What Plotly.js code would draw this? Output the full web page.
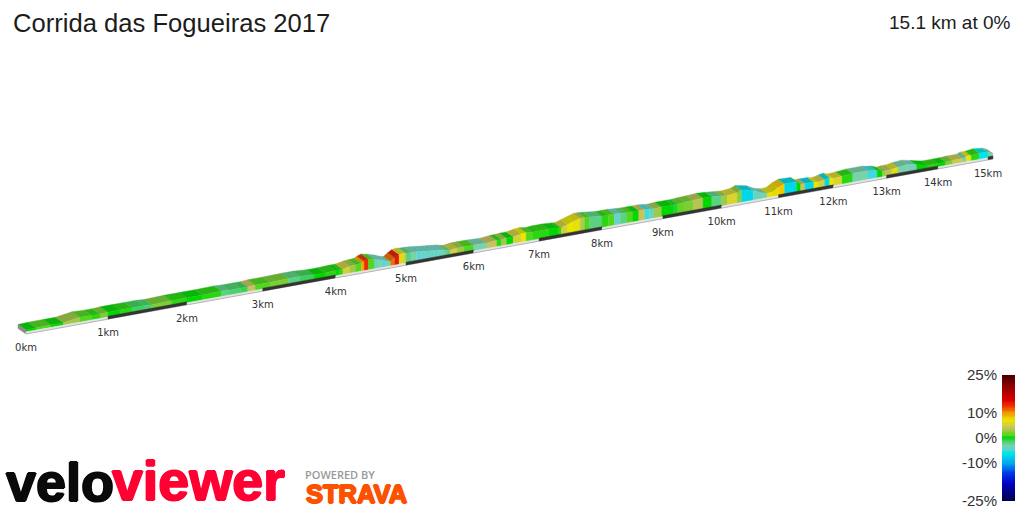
<!DOCTYPE html>
<html><head><meta charset="utf-8">
<script src="https://cdn.plot.ly/plotly-3.0.1.min.js"></script>
<style>html,body{margin:0;padding:0;background:#fff}#c{width:1024px;height:512px}</style></head>
<body><div id="c"></div>
<script>
// Course data: distance (km), relief above the road at that distance, gradient (%) of the piece that starts there
const distanceKm = [0,.12,.3,.45,.65,.8,.9,1,1.15,1.3,1.45,1.55,1.8,2,2.2,2.45,2.55,2.7,2.8,2.9,3.1,3.35,3.5,3.7,3.85,
 4,4.05,4.1,4.2,4.28,4.36,4.4,4.46,4.55,4.6,4.65,4.72,4.78,4.84,4.9,4.97,
 5,5.08,5.15,5.22,5.28,5.35,5.42,5.48,5.55,5.6,5.65,5.75,5.85,
 6,6.2,6.35,6.42,6.5,6.6,6.72,6.8,6.9,
 7,7.15,7.3,7.35,7.45,7.55,7.65,7.72,7.8,
 8,8.1,8.2,8.3,8.4,8.5,8.6,8.7,8.78,8.85,8.98,
 9.17,9.25,9.37,9.51,9.68,9.83,
 10,10.1,10.27,10.35,10.55,10.67,10.8,10.9,
 11,11.11,11.33,11.4,11.48,11.64,11.72,11.84,11.93,
 12,12.16,12.36,12.64,12.82,12.92,
 13,13.1,13.22,13.4,13.58,13.8,
 14,14.15,14.29,14.49,14.56,14.66,14.82,15,15.1];
const relief = [4,4.5,4.5,4.5,7,6.5,6.5,7,7,7,7,6.5,7,7,7,7.5,7,7,7,7.5,7.5,8,8,7,7,
 7.5,7.5,7.5,9,9.5,10,11.5,13,11.5,10.5,9.5,7.5,6.5,9.5,12,12.5,
 12,12,11.5,11,10.5,10,9.5,9,8.5,7.5,7,8,8,
 8,7.5,8.5,8.5,9,9,10.5,11,10,
 10.5,10.5,10,9.5,11.5,13.5,15.5,15.5,15,
 13.5,13.5,13.5,13,12.5,12.5,12.5,12.5,12,11.5,12,
 12,12,12.5,13,13.5,13,12,
 11.5,12.5,14.5,12,8.5,6.5,7,10.5,
 13,12.5,9.5,9.5,9.5,8.5,10,11,9.5,
 10,11,11,9.5,7.5,8,
 8,9,10,8,5.5,5.5,
 5.5,6,6,7.5,7.5,8.5,7.5,5.5,4];
const gradePct = [0,1,0,3,1,.5,2,0,.5,-1,-1.5,2,.5,0,.5,-2,-1.5,-1,4,1,2,-2,-1,0,.5,
 0,.5,5,3,1,9,13,1,-4,-3,-4.5,-3,11,14,6,5,
 -2,-3,-4.5,-3.5,-4.5,-3.5,-4.5,-3.5,-2.5,-2,5,3,1,
 -3,4,.5,3,0,5,7,1,.5,
 .5,0,.5,5,7,6.5,3.5,1,-2,
 .5,1,-4,-2,1,0,4,-5,-4,3,0,
 -.5,1.5,2,3.5,0,-2,
 3,5.5,2.5,-7,-4,-3,6.5,7.5,
 8,-7,0,4,-7,7,5,-7,7,
 5.5,.5,-3,-5,0,3,
 3.5,6,-3,-3.5,0,.5,
 0,2,4.5,-3,7,.5,-6,-3];
const kmLabels = ["0km","1km","2km","3km","4km","5km","6km","7km","8km","9km","10km","11km","12km","13km","14km","15km"];
const kmMarks = [0,1,2,3,4,5,6,7,8,9,10,11,12,13,14,15];
const stripEnds = [0,1,2,3,4,5,6,7,8,9,10,11,12,13,14,15,15.1];
// Legend
const legendTicks = [-25,-10,0,10,25];
const legendLabels = ["-25%","-10%","0%","10%","25%"];
const gradeStops = [-25,-18,-14,-10,-6,-4.5,-3,-1,0,1,4,7,10,12,15,20,25];
const gradeColors = [[0,0,70],[0,0,200],[0,60,230],[0,170,240],[0,230,230],[95,212,212],[120,210,170],[60,210,90],[0,215,0],[80,215,30],[200,195,90],[235,230,0],[240,150,0],[240,70,0],[220,0,0],[150,0,0],[70,0,0]];

function colorOf(g, f, mix){
  let i=0; while(i<gradeStops.length-2 && g>gradeStops[i+1]) i++;
  const t=(g-gradeStops[i])/(gradeStops[i+1]-gradeStops[i]);
  const c=gradeColors[i].map((v,k)=>Math.round(((v+(gradeColors[i+1][k]-v)*t)*f)*(1-mix)+120*mix));
  return `rgb(${c[0]},${c[1]},${c[2]})`;
}
// Oblique perspective view: d along course, w across the course, h upward
const persp=.0204, kmScale=83.76, originX=26, originY=334, rise=.181;
function project(d,w,h){
  const s=1/(1+persp*d), x=originX+kmScale*d*s;
  return [x-8*w*s, originY-rise*(x-originX)-5.5*w*s-h];
}
function poly(pts,fill,lw){
  return {type:'scatter',mode:'lines',x:[...pts.map(p=>p[0]),pts[0][0]],y:[...pts.map(p=>p[1]),pts[0][1]],
    fill:'toself',fillcolor:fill,line:{color:fill,width:lw===undefined?.4:lw},hoverinfo:'skip',showlegend:false};
}
const traces=[];
const n=distanceKm.length-1;
for(let i=0;i<n;i++){
  const a=distanceKm[i],b=distanceKm[i+1];
  traces.push(poly([project(a,0,relief[i]),project(b,0,relief[i+1]),project(b,1,relief[i+1]),project(a,1,relief[i])],colorOf(gradePct[i],.85,.08)));
}
for(let i=0;i<n;i++){
  const a=distanceKm[i],b=distanceKm[i+1];
  traces.push(poly([project(a,0,2),project(b,0,2),project(b,0,relief[i+1]),project(a,0,relief[i])],colorOf(gradePct[i],1,0)));
}
// front face
traces.push(poly([project(0,0,0),project(0,1,0),project(0,1,relief[0]),project(0,0,relief[0])],'#8a8a8a'));
// road strip alternating per km
for(let i=0;i<stripEnds.length-1;i++){
  const a=stripEnds[i],b=stripEnds[i+1],dark=i%2===1;
  traces.push(poly([project(a,0,0),project(b,0,0),project(b,0,dark?3:2.2),project(a,0,dark?3:2.2)],dark?'#333333':'#e4e4e4'));
  if(!dark){const p=project(a,0,0),q=project(b,0,0);
    traces.push({type:'scatter',mode:'lines',x:[p[0],q[0]],y:[p[1],q[1]],line:{color:'#b5b5b5',width:1},hoverinfo:'skip',showlegend:false});}
}
// km labels
const lp=kmMarks.map(k=>project(k,0,-14.5));
traces.push({type:'scatter',mode:'text',x:lp.map(p=>p[0]),y:lp.map(p=>p[1]),text:kmLabels,textposition:'middle center',
  textfont:{family:'DejaVu Sans',size:10,color:'#333'},hoverinfo:'skip',showlegend:false});
// gradient legend
const ramp=[];for(let v=-25;v<=25;v+=.5)ramp.push(v);
const lo=gradeStops[0],hi=gradeStops[gradeStops.length-1];
traces.push({type:'heatmap',xaxis:'x2',yaxis:'y2',x:[0],y:ramp,z:ramp.map(v=>[v]),zmin:lo,zmax:hi,showscale:false,hoverinfo:'skip',
  colorscale:gradeStops.map((s,i)=>[(s-lo)/(hi-lo),`rgb(${gradeColors[i].join(',')})`])});

const noAxis={showgrid:false,zeroline:false,showticklabels:false,ticks:'',showline:false};
const thick=c=>`1px 0 0 ${c}, -1px 0 0 ${c}, 0 1px 0 ${c}, 0 -1px 0 ${c}`;
const arial='Liberation Sans';
const layout={
  width:1024,height:512,margin:{l:0,r:0,t:0,b:0},paper_bgcolor:'#fff',plot_bgcolor:'#fff',showlegend:false,
  title:{text:'Corrida das Fogueiras 2017',x:13/1024,xanchor:'left',y:1-23/512,yanchor:'middle',font:{family:arial,size:25.6,color:'#1c1c1c'}},
  xaxis:{...noAxis,range:[0,1024],domain:[0,1],fixedrange:true},
  yaxis:{...noAxis,range:[512,0],domain:[0,1],fixedrange:true},
  xaxis2:{...noAxis,domain:[1002/1024,1015/1024],anchor:'y2',range:[-.5,.5],fixedrange:true},
  yaxis2:{...noAxis,domain:[11/512,137/512],anchor:'x2',range:[-25,25],tickmode:'array',tickvals:legendTicks,ticktext:legendLabels,
    showticklabels:true,side:'left',ticklen:0,tickfont:{family:arial,size:15,color:'#333'},ticklabelstandoff:4,fixedrange:true},
  annotations:[
    {xref:'paper',yref:'paper',x:1013/1024,y:1-22/512,xanchor:'right',yanchor:'middle',showarrow:false,text:'15.1 km at 0%',font:{family:arial,size:19,color:'#1c1c1c'}},
    {xref:'paper',yref:'paper',x:4/1024,y:1-482/512,xanchor:'left',yanchor:'middle',showarrow:false,text:'velo',font:{family:arial,size:54,weight:700,color:'#0a0a0a',shadow:thick('#0a0a0a')}},
    {xref:'paper',yref:'paper',x:110/1024,y:1-481/512,xanchor:'left',yanchor:'middle',showarrow:false,text:'viewer',font:{family:arial,size:55.5,weight:700,color:'#ff0033',shadow:thick('#ff0033')}},
    {xref:'paper',yref:'paper',x:303/1024,y:1-474/512,xanchor:'left',yanchor:'middle',showarrow:false,text:'POWERED BY',font:{family:'Open Sans',size:11,weight:600,color:'#999'}},
    {xref:'paper',yref:'paper',x:304/1024,y:1-494/512,xanchor:'left',yanchor:'middle',showarrow:false,text:'STRAVA',font:{family:arial,size:25.5,weight:700,color:'#fc5200',shadow:thick('#fc5200')}}
  ]
};
Plotly.newPlot('c',traces,layout,{staticPlot:true,displayModeBar:false});
</script></body></html>
